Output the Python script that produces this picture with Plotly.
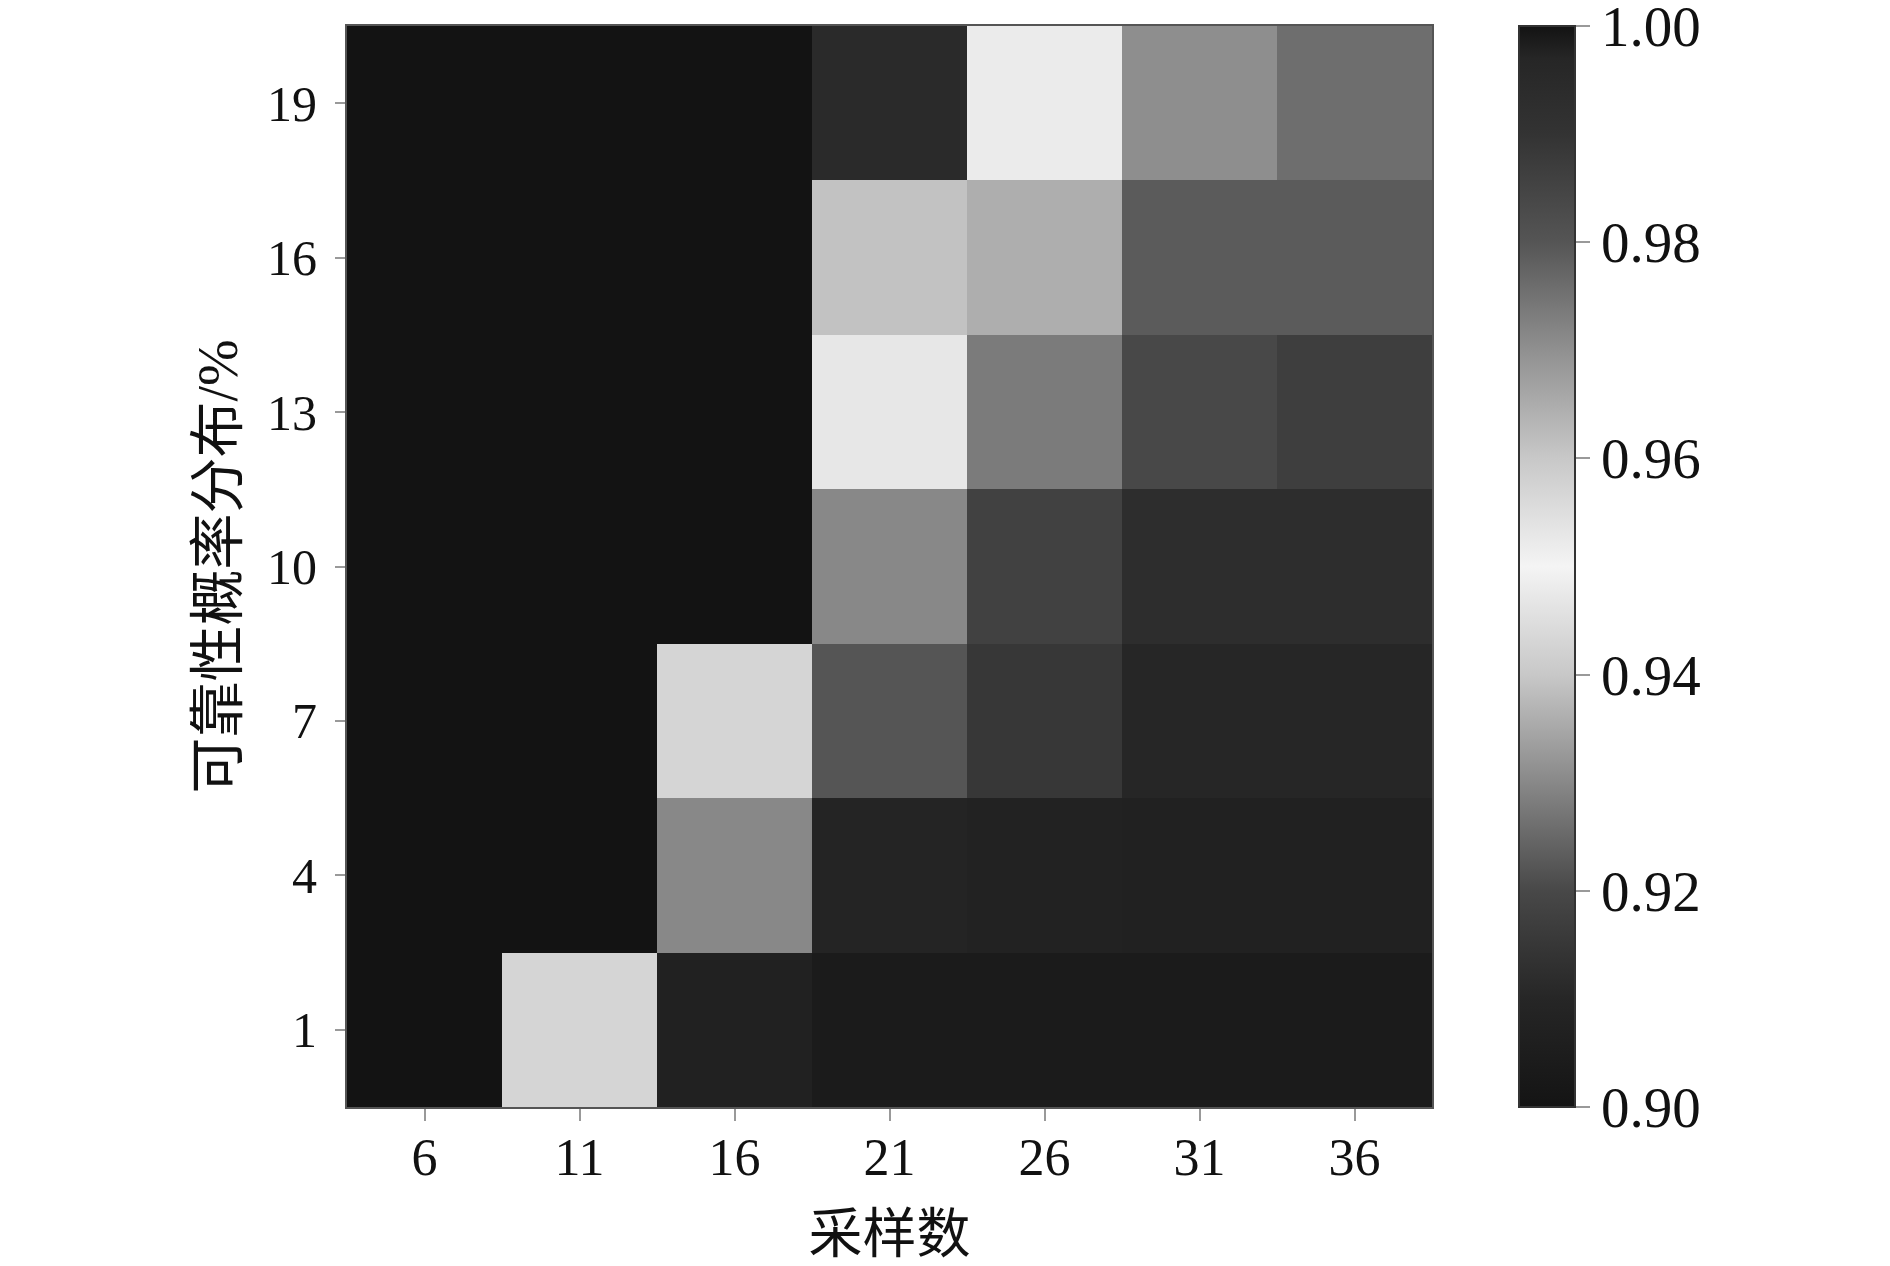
import plotly.graph_objects as go

# 采样数 (x) and 可靠性概率分布/% (y)
samples = [6, 11, 16, 21, 26, 31, 36]
prob_levels = [1, 4, 7, 10, 13, 16, 19]

# one row per y level, bottom to top
row_1 = [1.000, 0.943, 0.907, 0.904, 0.904, 0.904, 0.904]
row_4 = [1.000, 1.000, 0.930, 0.909, 0.908, 0.907, 0.907]
row_7 = [1.000, 1.000, 0.943, 0.922, 0.915, 0.910, 0.910]
row_10 = [1.000, 1.000, 1.000, 0.930, 0.918, 0.912, 0.912]
row_13 = [1.000, 1.000, 1.000, 0.947, 0.928, 0.920, 0.917]
row_16 = [1.000, 1.000, 1.000, 0.939, 0.936, 0.923, 0.923]
row_19 = [1.000, 1.000, 1.000, 0.995, 0.948, 0.931, 0.926]
z = [row_1, row_4, row_7, row_10, row_13, row_16, row_19]

cbar_ticks = [0.90, 0.92, 0.94, 0.96, 0.98, 1.00]

# dark -> white -> dark grey map
grey_map = [
    [0.0, "#141414"],
    [0.1, "#262626"],
    [0.2, "#484848"],
    [0.3, "#888888"],
    [0.4, "#c8c8c8"],
    [0.5, "#f4f4f4"],
    [0.6, "#c8c8c8"],
    [0.7, "#909090"],
    [0.8, "#555555"],
    [0.9, "#333333"],
    [0.97, "#262626"],
    [1.0, "#131313"],
]

serif = "Liberation Serif, Times New Roman, Noto Sans CJK SC"

fig = go.Figure(go.Heatmap(
    x=samples,
    y=prob_levels,
    z=z,
    zmin=0.8999999,
    zmax=1.0000001,
    colorscale=grey_map,
    colorbar=dict(
        x=1.080, xanchor="left", xpad=0,
        y=0.5, yanchor="middle", len=1.0, ypad=0,
        thickness=56,
        outlinecolor="#333333", outlinewidth=2,
        tickvals=cbar_ticks,
        ticktext=[f"{v:.2f}" for v in cbar_ticks],
        ticklabeloverflow="allow",
        ticks="outside", ticklen=14, tickcolor="#999999", tickwidth=2,
        tickfont=dict(family=serif, size=57, color="#111111"),
    ),
))

fig.update_xaxes(
    automargin=False,
    tickvals=samples,
    ticks="outside", ticklen=12, tickcolor="#999999", tickwidth=2,
    ticklabelstandoff=-8,
    tickfont=dict(family=serif, size=52, color="#111111"),
    title=dict(text="采样数", font=dict(family=serif, size=54, color="#111111"), standoff=30),
    showline=True, linecolor="#555555", linewidth=2, mirror=True,
    showgrid=False, zeroline=False,
)

fig.update_yaxes(
    automargin=False,
    tickvals=prob_levels,
    ticks="outside", ticklen=10, tickcolor="#999999", tickwidth=2,
    ticklabelstandoff=8,
    tickfont=dict(family=serif, size=50, color="#111111"),
    title=dict(text="可靠性概率分布/%", font=dict(family=serif, size=56, color="#111111"), standoff=11),
    showline=True, linecolor="#555555", linewidth=2, mirror=True,
    showgrid=False, zeroline=False,
)

# page body adds 8px, so margins are shifted by that much
fig.update_layout(
    width=1890,
    height=1266,
    margin=dict(l=339, r=466, t=18, b=167),
    plot_bgcolor="white",
    paper_bgcolor="white",
)

fig.write_html("out.html")
